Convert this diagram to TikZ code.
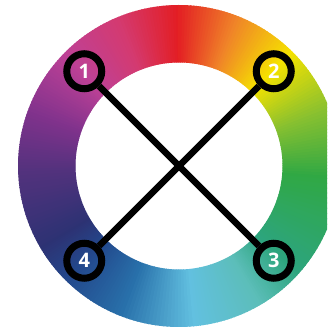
\documentclass[tikz,border=0pt]{standalone}
\usepackage{fontspec}
\setmainfont{Open Sans}
\usetikzlibrary{positioning}
\definecolor{WheelRed}{RGB}{227,30,36}
\definecolor{WheelRose}{RGB}{212,58,112}
\definecolor{WheelMagenta}{RGB}{190,65,150}
\definecolor{WheelPurple}{RGB}{128,50,140}
\definecolor{WheelIndigo}{RGB}{82,50,125}
\definecolor{WheelNavy}{RGB}{45,50,115}
\definecolor{WheelDeepBlue}{RGB}{35,72,140}
\definecolor{WheelBlue}{RGB}{40,112,170}
\definecolor{WheelSky}{RGB}{98,192,224}
\definecolor{WheelTeal}{RGB}{92,190,185}
\definecolor{WheelSea}{RGB}{45,165,125}
\definecolor{WheelGreen}{RGB}{48,168,68}
\definecolor{WheelLime}{RGB}{135,192,48}
\definecolor{WheelYellow}{RGB}{245,226,0}
\definecolor{WheelOrange}{RGB}{240,132,40}

\begin{document}
\begin{tikzpicture}[x=1pt, y=1pt,
    marker/.style={circle, draw=black, line width=7pt, minimum size=35pt,
                   inner sep=0pt, text=white,
                   font=\bfseries\fontsize{20}{20}\selectfont},
    spoke/.style={line width=6.5pt, black}]
  \useasboundingbox (0,0) rectangle (327,328);
  \clip (0,0) rectangle (327,328);
  \begin{scope}[shift={(179,162)}]
    % colour ring, counterclockwise from the top
    \foreach \from/\to/\ca/\cb in {90/112/WheelRed/WheelRose,
        112/135/WheelRose/WheelMagenta, 135/160/WheelMagenta/WheelPurple,
        160/182/WheelPurple/WheelIndigo, 182/210/WheelIndigo/WheelNavy,
        210/225/WheelNavy/WheelDeepBlue, 225/248/WheelDeepBlue/WheelBlue,
        248/275/WheelBlue/WheelSky, 275/300/WheelSky/WheelTeal,
        300/318/WheelTeal/WheelSea, 318/355/WheelSea/WheelGreen,
        355/380/WheelGreen/WheelLime, 380/405/WheelLime/WheelYellow,
        405/428/WheelYellow/WheelOrange, 428/450/WheelOrange/WheelRed}{
      \foreach \i in {0,...,19}{
        \pgfmathtruncatemacro{\p}{100-\i*5}
        \pgfmathsetmacro{\s}{\from+(\to-\from)*\i/20}
        \pgfmathsetmacro{\e}{\from+(\to-\from)*(\i+1)/20+0.4}
        \fill[\ca!\p!\cb] (\s:103.5) arc[start angle=\s, end angle=\e, radius=103.5]
          -- (\e:161) arc[start angle=\e, end angle=\s, radius=161] -- cycle;
      }
    }
    \node[marker] (m1) at (135:134) {1};
    \node[marker] (m2) at (45:134) {2};
    \node[marker] (m3) at (-45:134) {3};
    \node[marker] (m4) at (-135:134) {4};
    \draw[spoke] (m1) -- (m3);
    \draw[spoke] (m2) -- (m4);
  \end{scope}
\end{tikzpicture}
\end{document}
